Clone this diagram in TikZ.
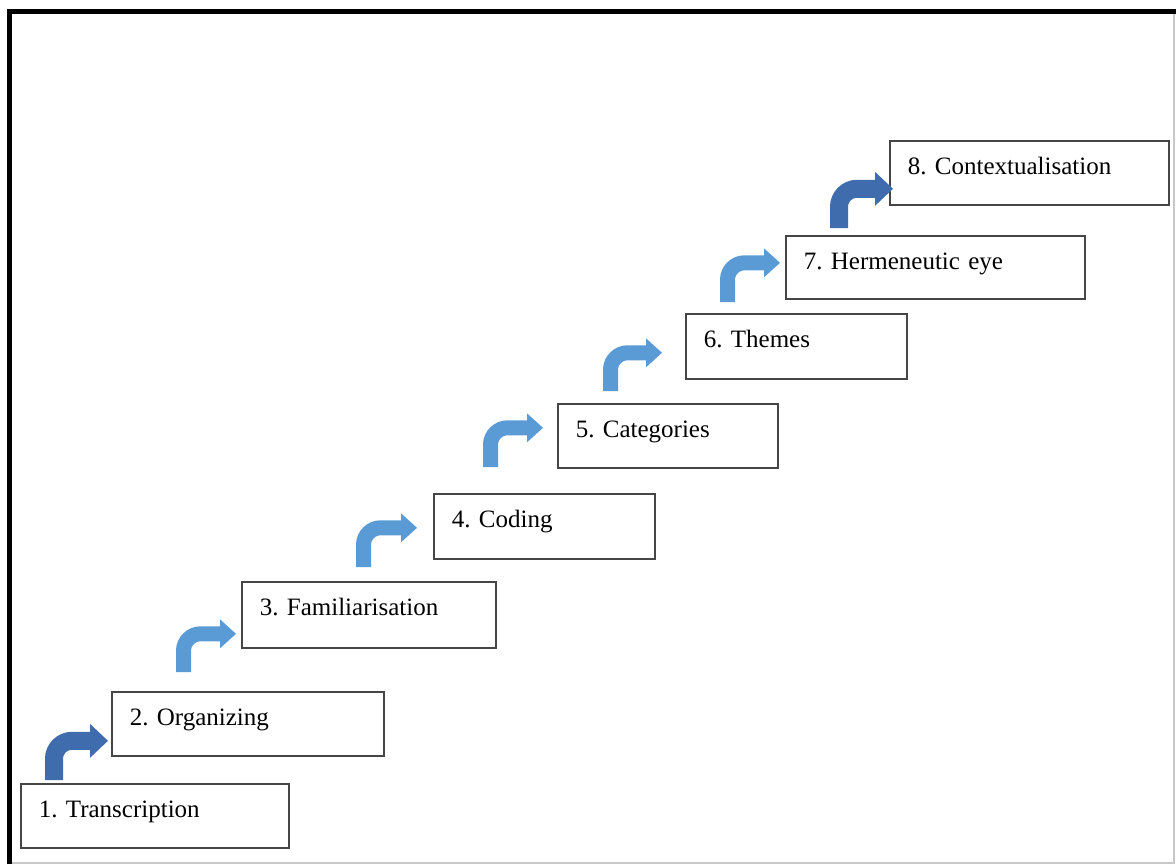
\documentclass[tikz,border=0pt]{standalone}
\usepackage{fontspec}
\setmainfont{Liberation Serif}
\usetikzlibrary{arrows.meta,calc}
\definecolor{lightarrow}{RGB}{91,155,213}
\definecolor{darkarrow}{RGB}{62,108,172}
\definecolor{boxline}{RGB}{70,70,70}
\definecolor{edgegray}{RGB}{200,200,200}
\frenchspacing
\begin{document}
\begin{tikzpicture}[x=0.5pt,y=-0.5pt,
  stepbox/.style={draw=boxline, line width=0.8pt, anchor=north west, inner xsep=9pt, inner ysep=0pt,
    align=left, text height=17pt, font=\fontsize{12.5}{15}\selectfont},
  lightbend/.style={draw=lightarrow, line width=7.5pt, rounded corners=8.5pt,
    -{Triangle[length=8pt,width=14.5pt,line width=0pt]}},
  darkbend/.style={draw=darkarrow, line width=9pt, rounded corners=9pt,
    -{Triangle[length=9pt,width=17pt,line width=0pt]}}]
\useasboundingbox (0,0) rectangle (1176,864);
% frame
\draw[edgegray, line width=1pt] (10,862.5) -- (1174,862.5) -- (1174,12);
\draw[line width=2.5pt] (9.5,864) -- (9.5,11.5) -- (1176,11.5);
% steps
\node[stepbox, text width=116pt, text depth=15pt] (b1) at (20,783) {1. Transcription};
\node[stepbox, text width=118pt, text depth=15pt] (b2) at (111,691) {2. Organizing};
\node[stepbox, text width=109pt, text depth=16pt] (b3) at (241,581) {3. Familiarisation};
\node[stepbox, text width=92.5pt, text depth=15.5pt] (b4) at (433,493) {4. Coding};
\node[stepbox, text width=92pt, text depth=15pt] (b5) at (557,403) {5. Categories};
\node[stepbox, text width=92.5pt, text depth=15.5pt] (b6) at (685,313) {6. Themes};
\node[stepbox, text width=131.5pt, text depth=14.5pt] (b7) at (785,235) {7. Hermeneutic eye};
\node[stepbox, text width=121.5pt, text depth=15pt] (b8) at (889,140) {8. Contextualisation};
% bent arrows
\draw[darkbend] ($(b1.north west)+(34,-3)$) |- ($(b2.west)+(-3,17)$);
\draw[lightbend] ($(b2.north west)+(72.5,-19)$) |- ($(b3.west)+(-5,19)$);
\draw[lightbend] ($(b3.north west)+(122.5,-14)$) |- ($(b4.west)+(-16,1.5)$);
\draw[lightbend] ($(b4.north west)+(57.5,-26)$) |- ($(b5.west)+(-14,-8)$);
\draw[lightbend] ($(b5.north west)+(53.5,-12)$) |- ($(b6.west)+(-23,6.5)$);
\draw[lightbend] ($(b6.north west)+(42.5,-11)$) |- ($(b7.west)+(-5,-4.5)$);
\draw[darkbend] ($(b7.north west)+(54,-7)$) |- ($(b8.west)+(4,16)$);
\end{tikzpicture}
\end{document}
